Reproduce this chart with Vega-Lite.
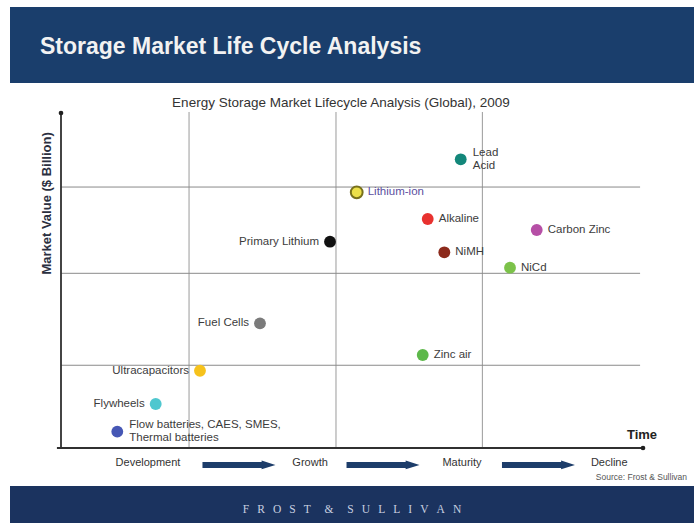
{
  "$schema": "https://vega.github.io/schema/vega-lite/v6.json",
  "background": "white",
  "padding": {"left": 10, "top": 7, "right": 0, "bottom": 0},
  "spacing": 0,
  "config": {"view": {"stroke": null}, "font": "Liberation Sans", "concat": {"spacing": 0}},
  "datasets": {
    "tech": [
      {"tech": "Lead Acid", "label": "Lead\nAcid", "time": 68.68, "value": 86.18},
      {"tech": "Lithium-ion", "label": "Lithium-ion", "time": 50.81, "value": 76.33},
      {"tech": "Alkaline", "label": "Alkaline", "time": 63.01, "value": 68.36},
      {"tech": "Carbon Zinc", "label": "Carbon Zinc", "time": 81.74, "value": 65.07},
      {"tech": "Primary Lithium", "label": "Primary Lithium", "time": 46.22, "value": 61.58},
      {"tech": "NiMH", "label": "NiMH", "time": 65.86, "value": 58.42},
      {"tech": "NiCd", "label": "NiCd", "time": 77.15, "value": 53.82},
      {"tech": "Fuel Cells", "label": "Fuel Cells", "time": 34.19, "value": 37.22},
      {"tech": "Zinc air", "label": "Zinc air", "time": 62.15, "value": 27.76},
      {"tech": "Ultracapacitors", "label": "Ultracapacitors", "time": 23.88, "value": 23.07},
      {"tech": "Flywheels", "label": "Flywheels", "time": 16.27, "value": 13.13},
      {"tech": "Flow batteries", "label": "Flow batteries, CAES, SMES,\nThermal batteries", "time": 9.67, "value": 4.87}
    ],
    "vgrid": [
      {"time": 22.0, "value": 0, "value2": 100.3},
      {"time": 47.25, "value": 0, "value2": 100.3},
      {"time": 72.4, "value": 0, "value2": 100.3}
    ],
    "hgrid": [
      {"value": 77.9, "time": 0, "time2": 99.5},
      {"value": 52.15, "time": 0, "time2": 99.5},
      {"value": 24.7, "time": 0, "time2": 99.5}
    ],
    "axes": [
      {"axis": "y", "time": 0, "value": 0, "time2": 0, "value2": 100},
      {"axis": "x", "time": -0.7, "value": 0, "time2": 100, "value2": 0}
    ],
    "heads": [
      {"axis": "y", "time": 0, "value": 100},
      {"axis": "x", "time": 100, "value": 0}
    ],
    "stages": [
      {"stage": "Development", "time": 14.95, "value": -4.48},
      {"stage": "Growth", "time": 42.8, "value": -4.48},
      {"stage": "Maturity", "time": 68.9, "value": -4.48},
      {"stage": "Decline", "time": 94.2, "value": -4.48}
    ],
    "arrows": [
      {"step": 1, "time": 30.58, "value": -5.07},
      {"step": 2, "time": 55.33, "value": -5.07},
      {"step": 3, "time": 82.04, "value": -5.07}
    ]
  },
  "vconcat": [
    {
      "width": 684,
      "height": 76,
      "view": {"fill": "#1a3e6c", "stroke": null},
      "title": {"text": "Storage Market Life Cycle Analysis", "anchor": "start", "frame": "group", "dx": 30, "offset": -52, "color": "#f2f2f2", "fontSize": 23, "fontWeight": "bold", "font": "Liberation Sans"},
      "data": {"values": [{}]},
      "mark": {"type": "text", "text": ""}
    },
    {
      "width": 684,
      "height": 403,
      "encoding": {
        "x": {"field": "time", "type": "quantitative", "scale": {"domain": [-8.763, 108.763], "nice": false, "zero": false}, "axis": null},
        "y": {"field": "value", "type": "quantitative", "scale": {"domain": [-11.343, 108.955], "nice": false, "zero": false}, "axis": null}
      },
      "layer": [
        {"data": {"name": "vgrid"}, "mark": {"type": "rule", "color": "#9a9a9a", "strokeWidth": 1}, "encoding": {"y2": {"field": "value2"}}},
        {"data": {"name": "hgrid"}, "mark": {"type": "rule", "color": "#8a8a8a", "strokeWidth": 1}, "encoding": {"x2": {"field": "time2"}}},
        {"data": {"name": "axes"}, "mark": {"type": "rule", "color": "#303030", "strokeWidth": 1.8}, "encoding": {"x2": {"field": "time2"}, "y2": {"field": "value2"}}},
        {"data": {"name": "heads"}, "mark": {"type": "circle", "size": 22, "color": "#202020", "opacity": 1}},
        {
          "data": {"name": "tech"},
          "mark": {"type": "circle", "size": 140, "opacity": 1, "strokeWidth": 2},
          "encoding": {
            "color": {"field": "tech", "type": "nominal", "legend": null, "scale": {
              "domain": ["Lead Acid", "Lithium-ion", "Alkaline", "Carbon Zinc", "Primary Lithium", "NiMH", "NiCd", "Fuel Cells", "Zinc air", "Ultracapacitors", "Flywheels", "Flow batteries"],
              "range": ["#13877a", "#ece04a", "#e8312f", "#b64fa6", "#111111", "#8c2a1c", "#7cc24a", "#7b7b7b", "#5db84a", "#f6c21c", "#4fc7cf", "#4657b5"]}},
            "stroke": {"condition": {"test": "datum.tech === 'Lithium-ion'", "value": "#77701c"}, "value": "transparent"}
          }
        },
        {
          "data": {"name": "tech"},
          "transform": [{"filter": {"not": {"field": "tech", "oneOf": ["Primary Lithium", "Fuel Cells", "Ultracapacitors", "Flywheels", "Lead Acid", "Flow batteries"]}}}],
          "mark": {"type": "text", "align": "left", "baseline": "middle", "dx": 11, "fontSize": 11.5},
          "encoding": {
            "text": {"field": "label"},
            "color": {"condition": {"test": "datum.tech === 'Lithium-ion'", "value": "#5b4fa0"}, "value": "#3c3c3c"}
          }
        },
        {
          "data": {"name": "tech"},
          "transform": [{"filter": {"field": "tech", "oneOf": ["Lead Acid", "Flow batteries"]}}],
          "mark": {"type": "text", "align": "left", "baseline": "middle", "dx": 12, "dy": -6.5, "fontSize": 11.5, "lineBreak": "\n", "lineHeight": 13, "color": "#3c3c3c"},
          "encoding": {"text": {"field": "label"}}
        },
        {
          "data": {"name": "tech"},
          "transform": [{"filter": {"field": "tech", "oneOf": ["Primary Lithium", "Fuel Cells", "Ultracapacitors", "Flywheels"]}}],
          "mark": {"type": "text", "align": "right", "baseline": "middle", "dx": -11, "fontSize": 11.5, "color": "#3c3c3c"},
          "encoding": {"text": {"field": "label"}}
        },
        {
          "data": {"name": "stages"},
          "mark": {"type": "text", "align": "center", "baseline": "middle", "fontSize": 11, "color": "#333333"},
          "encoding": {"text": {"field": "stage"}}
        },
        {
          "data": {"name": "arrows"},
          "mark": {"type": "point", "shape": "M -1 -0.085 L 0.62 -0.085 L 0.62 -0.12 L 1 0 L 0.62 0.12 L 0.62 0.085 L -1 0.085 Z", "size": 5329, "filled": true, "color": "#1d3d6a", "opacity": 1, "strokeWidth": 0}
        },
        {
          "data": {"values": [{"time": 48.1, "value": 103.07, "t": "Energy Storage Market Lifecycle Analysis (Global), 2009"}]},
          "mark": {"type": "text", "align": "center", "baseline": "middle", "fontSize": 13.5, "color": "#333333"},
          "encoding": {"text": {"field": "t"}}
        },
        {
          "data": {"values": [{"time": -2.32, "value": 73.0, "t": "Market Value ($ Billion)"}]},
          "mark": {"type": "text", "align": "center", "baseline": "middle", "angle": 270, "fontSize": 13, "fontWeight": "bold", "color": "#2b2f3f"},
          "encoding": {"text": {"field": "t"}}
        },
        {
          "data": {"values": [{"time": 99.83, "value": 3.9, "t": "Time"}]},
          "mark": {"type": "text", "align": "center", "baseline": "middle", "fontSize": 13, "fontWeight": "bold", "color": "#222222"},
          "encoding": {"text": {"field": "t"}}
        },
        {
          "data": {"values": [{"time": 107.56, "value": -8.66, "t": "Source: Frost & Sullivan"}]},
          "mark": {"type": "text", "align": "right", "baseline": "middle", "fontSize": 8.5, "color": "#555555"},
          "encoding": {"text": {"field": "t"}}
        }
      ]
    },
    {
      "width": 684,
      "height": 37,
      "view": {"fill": "#1b335f", "stroke": null},
      "data": {"values": [{"brand": "F\u2002\u2009R\u2002\u2009O\u2002\u2009S\u2002\u2009T\u2003\u2009&\u2003\u2009S\u2002\u2009U\u2002\u2009L\u2002\u2009L\u2002\u2009I\u2002\u2009V\u2002\u2009A\u2002\u2009N"}]},
      "mark": {"type": "text", "font": "Liberation Serif", "fontSize": 11.5, "color": "#c8d0e0", "baseline": "middle", "align": "center", "dy": 5},
      "encoding": {"text": {"field": "brand"}}
    }
  ]
}
